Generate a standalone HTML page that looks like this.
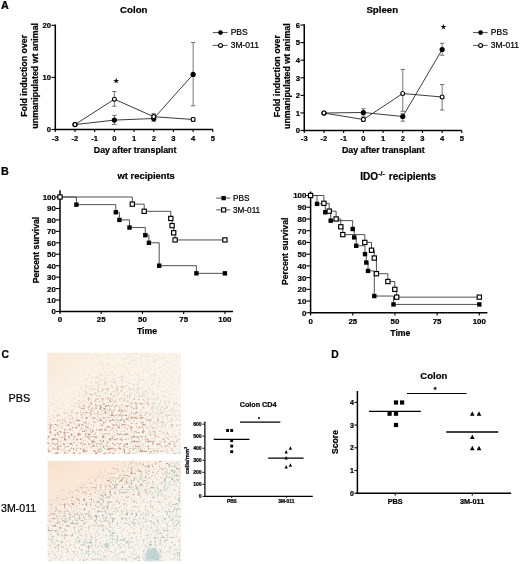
<!DOCTYPE html>
<html><head><meta charset="utf-8"><style>
html,body{margin:0;padding:0;background:#fff;}
svg{display:block;}
text{font-family:"Liberation Sans", Arial, sans-serif;stroke:#000;stroke-width:0.22px;}
</style></head><body>
<svg width="520" height="564" viewBox="0 0 520 564">
<rect width="520" height="564" fill="#fff"/>
<g transform="translate(47.4,352.8)">
<defs>
<filter id="fb11" x="0" y="0" width="100%" height="100%" color-interpolation-filters="sRGB"><feTurbulence type="fractalNoise" baseFrequency="0.42" numOctaves="3" seed="11"/><feColorMatrix type="matrix" values="0 0 0 0 0.8  0 0 0 0 0.52  0 0 0 0 0.44  3.6 0 0 0 -1.85"/><feGaussianBlur stdDeviation="0.4"/></filter>
<filter id="ft11" x="0" y="0" width="100%" height="100%" color-interpolation-filters="sRGB"><feTurbulence type="fractalNoise" baseFrequency="0.42" numOctaves="3" seed="14" result="hi"/><feTurbulence type="fractalNoise" baseFrequency="0.06" numOctaves="2" seed="16" result="lo"/><feColorMatrix in="hi" type="matrix" values="0 0 0 0 0.56  0 0 0 0 0.75  0 0 0 0 0.71  0 3.6 0 0 -2.0" result="t0"/><feColorMatrix in="lo" type="matrix" values="0 0 0 0 0  0 0 0 0 0  0 0 0 0 0  0 0 5 0 -2.1" result="lm"/><feComposite in="t0" in2="lm" operator="in"/><feGaussianBlur stdDeviation="0.4"/></filter>
<filter id="mb11"><feGaussianBlur stdDeviation="7"/></filter>
<linearGradient id="bg11" x1="0" y1="0" x2="1" y2="0.75"><stop offset="0" stop-color="#f9e8d6"/><stop offset="0.3" stop-color="#fbf3e7"/><stop offset="1" stop-color="#f9f6ee"/></linearGradient>
<radialGradient id="mbg11" cx="0.32" cy="1.0" r="0.9"><stop offset="0" stop-color="#fff" stop-opacity="1"/><stop offset="0.5" stop-color="#fff" stop-opacity="0.9"/><stop offset="0.8" stop-color="#fff" stop-opacity="0.35"/><stop offset="1" stop-color="#fff" stop-opacity="0.12"/></radialGradient>
<radialGradient id="mtg11" cx="0.55" cy="0.75" r="0.6"><stop offset="0" stop-color="#fff" stop-opacity="1"/><stop offset="1" stop-color="#fff" stop-opacity="0.2"/></radialGradient>
<mask id="mkb11"><rect width="133.6" height="101.2" fill="url(#mbg11)"/><ellipse cx="2.7" cy="15.2" rx="40.1" ry="50.6" fill="#000" fill-opacity="0.85" filter="url(#mb11)"/></mask>
<mask id="mkt11"><rect width="133.6" height="101.2" fill="url(#mtg11)"/><ellipse cx="2.7" cy="15.2" rx="40.1" ry="50.6" fill="#000" fill-opacity="0.85" filter="url(#mb11)"/></mask>
</defs>
<rect width="133.6" height="101.2" fill="url(#bg11)"/>
<rect width="133.6" height="101.2" filter="url(#ft11)" mask="url(#mkt11)"/>
<rect width="133.6" height="101.2" filter="url(#fb11)" mask="url(#mkb11)"/>
</g>
<g transform="translate(47.6,460.8)">
<defs>
<filter id="fb23" x="0" y="0" width="100%" height="100%" color-interpolation-filters="sRGB"><feTurbulence type="fractalNoise" baseFrequency="0.42" numOctaves="3" seed="23"/><feColorMatrix type="matrix" values="0 0 0 0 0.8  0 0 0 0 0.52  0 0 0 0 0.44  3.6 0 0 0 -1.98"/><feGaussianBlur stdDeviation="0.4"/></filter>
<filter id="ft23" x="0" y="0" width="100%" height="100%" color-interpolation-filters="sRGB"><feTurbulence type="fractalNoise" baseFrequency="0.42" numOctaves="3" seed="26" result="hi"/><feTurbulence type="fractalNoise" baseFrequency="0.06" numOctaves="2" seed="28" result="lo"/><feColorMatrix in="hi" type="matrix" values="0 0 0 0 0.56  0 0 0 0 0.75  0 0 0 0 0.71  0 3.6 0 0 -1.9" result="t0"/><feColorMatrix in="lo" type="matrix" values="0 0 0 0 0  0 0 0 0 0  0 0 0 0 0  0 0 5 0 -2.1" result="lm"/><feComposite in="t0" in2="lm" operator="in"/><feGaussianBlur stdDeviation="0.4"/></filter>
<filter id="mb23"><feGaussianBlur stdDeviation="7"/></filter>
<linearGradient id="bg23" x1="0" y1="0" x2="0.55" y2="0.75"><stop offset="0" stop-color="#f9e2cd"/><stop offset="0.4" stop-color="#faeadb"/><stop offset="0.6" stop-color="#f8f3ea"/><stop offset="1" stop-color="#f6f5ee"/></linearGradient>
<linearGradient id="mbg23" x1="0" y1="0" x2="0.55" y2="0.75"><stop offset="0.3" stop-color="#fff" stop-opacity="0.03"/><stop offset="0.5" stop-color="#fff" stop-opacity="1"/><stop offset="0.75" stop-color="#fff" stop-opacity="0.6"/><stop offset="1" stop-color="#fff" stop-opacity="0.45"/></linearGradient>
<linearGradient id="mtg23" x1="0" y1="0" x2="0.55" y2="0.75"><stop offset="0.35" stop-color="#fff" stop-opacity="0.03"/><stop offset="0.6" stop-color="#fff" stop-opacity="1"/><stop offset="1" stop-color="#fff" stop-opacity="0.9"/></linearGradient>
<mask id="mkb23"><rect width="133.4" height="100.4" fill="url(#mbg23)"/></mask>
<mask id="mkt23"><rect width="133.4" height="100.4" fill="url(#mtg23)"/></mask>
</defs>
<rect width="133.4" height="100.4" fill="url(#bg23)"/>
<rect width="133.4" height="100.4" filter="url(#ft23)" mask="url(#mkt23)"/>
<rect width="133.4" height="100.4" filter="url(#fb23)" mask="url(#mkb23)"/>
<path d="M97.4,99.7 C97.4,92.2 99.4,87.2 104.4,87.7 C108.4,86.2 112.4,92.2 112.4,99.7 Z" fill="#a9c8cc" opacity="0.7" filter="url(#mb23s)"/>
<ellipse cx="59.4" cy="84.2" rx="2.5" ry="2.5" fill="#a4c6c0" opacity="0.6"/>
<filter id="mb23s"><feGaussianBlur stdDeviation="0.8"/></filter>
</g>
<text x="1.00" y="9.00" font-size="10.8" font-weight="bold" text-anchor="start" fill="#000" >A</text>
<text x="1.00" y="175.00" font-size="10.8" font-weight="bold" text-anchor="start" fill="#000" >B</text>
<text x="1.50" y="357.60" font-size="10.3" font-weight="bold" text-anchor="start" fill="#000" >C</text>
<text x="331.20" y="357.60" font-size="10.3" font-weight="bold" text-anchor="start" fill="#000" >D</text>
<text x="133.80" y="13.40" font-size="9.7" font-weight="bold" text-anchor="middle" fill="#000" >Colon</text>
<line x1="55.30" y1="24.55" x2="55.30" y2="130.25" stroke="#000" stroke-width="1.5"/>
<line x1="54.55" y1="129.50" x2="212.82" y2="129.50" stroke="#000" stroke-width="1.5"/>
<line x1="51.50" y1="129.50" x2="55.30" y2="129.50" stroke="#000" stroke-width="1.1"/>
<text x="51.00" y="132.30" font-size="7.7" font-weight="bold" text-anchor="end" fill="#000" >0</text>
<line x1="51.50" y1="77.40" x2="55.30" y2="77.40" stroke="#000" stroke-width="1.1"/>
<text x="51.00" y="80.20" font-size="7.7" font-weight="bold" text-anchor="end" fill="#000" >10</text>
<line x1="51.50" y1="25.30" x2="55.30" y2="25.30" stroke="#000" stroke-width="1.1"/>
<text x="51.00" y="28.10" font-size="7.7" font-weight="bold" text-anchor="end" fill="#000" >20</text>
<line x1="55.30" y1="129.50" x2="55.30" y2="132.10" stroke="#000" stroke-width="1.1"/>
<text x="55.30" y="140.80" font-size="7.6" font-weight="bold" text-anchor="middle" fill="#000" >-3</text>
<line x1="74.99" y1="129.50" x2="74.99" y2="132.10" stroke="#000" stroke-width="1.1"/>
<text x="74.99" y="140.80" font-size="7.6" font-weight="bold" text-anchor="middle" fill="#000" >-2</text>
<line x1="94.68" y1="129.50" x2="94.68" y2="132.10" stroke="#000" stroke-width="1.1"/>
<text x="94.68" y="140.80" font-size="7.6" font-weight="bold" text-anchor="middle" fill="#000" >-1</text>
<line x1="114.37" y1="129.50" x2="114.37" y2="132.10" stroke="#000" stroke-width="1.1"/>
<text x="114.37" y="140.80" font-size="7.6" font-weight="bold" text-anchor="middle" fill="#000" >0</text>
<line x1="134.06" y1="129.50" x2="134.06" y2="132.10" stroke="#000" stroke-width="1.1"/>
<text x="134.06" y="140.80" font-size="7.6" font-weight="bold" text-anchor="middle" fill="#000" >1</text>
<line x1="153.75" y1="129.50" x2="153.75" y2="132.10" stroke="#000" stroke-width="1.1"/>
<text x="153.75" y="140.80" font-size="7.6" font-weight="bold" text-anchor="middle" fill="#000" >2</text>
<line x1="173.44" y1="129.50" x2="173.44" y2="132.10" stroke="#000" stroke-width="1.1"/>
<text x="173.44" y="140.80" font-size="7.6" font-weight="bold" text-anchor="middle" fill="#000" >3</text>
<line x1="193.13" y1="129.50" x2="193.13" y2="132.10" stroke="#000" stroke-width="1.1"/>
<text x="193.13" y="140.80" font-size="7.6" font-weight="bold" text-anchor="middle" fill="#000" >4</text>
<line x1="212.82" y1="129.50" x2="212.82" y2="132.10" stroke="#000" stroke-width="1.1"/>
<text x="212.82" y="140.80" font-size="7.6" font-weight="bold" text-anchor="middle" fill="#000" >5</text>
<text x="135.10" y="152.90" font-size="8.8" font-weight="bold" text-anchor="middle" fill="#000" >Day after transplant</text>
<text transform="translate(26.90,75.80) rotate(-90)" font-size="8.85" font-weight="bold" text-anchor="middle" fill="#000" >Fold induction over</text>
<text transform="translate(37.60,75.80) rotate(-90)" font-size="8.85" font-weight="bold" text-anchor="middle" fill="#000" >unmanipulated wt animal</text>
<polyline points="74.99,124.60 114.37,120.10 153.75,118.50 193.13,74.40" fill="none" stroke="#3c3c3c" stroke-width="1.0"/>
<polyline points="74.99,124.60 114.37,99.20 153.75,116.70 193.13,119.50" fill="none" stroke="#3c3c3c" stroke-width="1.0"/>
<line x1="114.37" y1="115.40" x2="114.37" y2="124.50" stroke="#666" stroke-width="0.9"/>
<line x1="112.17" y1="115.40" x2="116.57" y2="115.40" stroke="#666" stroke-width="0.9"/>
<line x1="112.17" y1="124.50" x2="116.57" y2="124.50" stroke="#666" stroke-width="0.9"/>
<line x1="153.75" y1="114.50" x2="153.75" y2="121.50" stroke="#666" stroke-width="0.9"/>
<line x1="151.55" y1="114.50" x2="155.95" y2="114.50" stroke="#666" stroke-width="0.9"/>
<line x1="151.55" y1="121.50" x2="155.95" y2="121.50" stroke="#666" stroke-width="0.9"/>
<line x1="193.13" y1="42.50" x2="193.13" y2="105.80" stroke="#666" stroke-width="0.9"/>
<line x1="190.93" y1="42.50" x2="195.33" y2="42.50" stroke="#666" stroke-width="0.9"/>
<line x1="190.93" y1="105.80" x2="195.33" y2="105.80" stroke="#666" stroke-width="0.9"/>
<line x1="114.37" y1="91.50" x2="114.37" y2="106.20" stroke="#666" stroke-width="0.9"/>
<line x1="112.17" y1="91.50" x2="116.57" y2="91.50" stroke="#666" stroke-width="0.9"/>
<line x1="112.17" y1="106.20" x2="116.57" y2="106.20" stroke="#666" stroke-width="0.9"/>
<line x1="153.75" y1="113.60" x2="153.75" y2="119.80" stroke="#666" stroke-width="0.9"/>
<line x1="151.55" y1="113.60" x2="155.95" y2="113.60" stroke="#666" stroke-width="0.9"/>
<line x1="151.55" y1="119.80" x2="155.95" y2="119.80" stroke="#666" stroke-width="0.9"/>
<line x1="193.13" y1="117.60" x2="193.13" y2="121.40" stroke="#666" stroke-width="0.9"/>
<line x1="190.93" y1="117.60" x2="195.33" y2="117.60" stroke="#666" stroke-width="0.9"/>
<line x1="190.93" y1="121.40" x2="195.33" y2="121.40" stroke="#666" stroke-width="0.9"/>
<circle cx="74.99" cy="124.60" r="2.6" fill="#000"/>
<circle cx="114.37" cy="120.10" r="2.6" fill="#000"/>
<circle cx="153.75" cy="118.50" r="2.6" fill="#000"/>
<circle cx="193.13" cy="74.40" r="2.6" fill="#000"/>
<circle cx="74.99" cy="124.60" r="1.95" fill="#fff" stroke="#000" stroke-width="1.1"/>
<circle cx="114.37" cy="99.20" r="1.95" fill="#fff" stroke="#000" stroke-width="1.1"/>
<circle cx="153.75" cy="116.70" r="1.95" fill="#fff" stroke="#000" stroke-width="1.1"/>
<circle cx="193.13" cy="119.50" r="1.95" fill="#fff" stroke="#000" stroke-width="1.1"/>
<line x1="212.80" y1="32.60" x2="227.60" y2="32.60" stroke="#3c3c3c" stroke-width="0.9"/>
<circle cx="220.50" cy="32.6" r="2.35" fill="#000"/>
<line x1="212.80" y1="45.40" x2="227.60" y2="45.40" stroke="#3c3c3c" stroke-width="0.9"/>
<circle cx="220.50" cy="45.40" r="1.95" fill="#fff" stroke="#000" stroke-width="1.1"/>
<text x="230.70" y="35.10" font-size="8.5" font-weight="normal" text-anchor="start" fill="#000" >PBS</text>
<text x="230.70" y="48.00" font-size="8.5" font-weight="normal" text-anchor="start" fill="#000" >3M-011</text>
<text x="116.3" y="83.0" font-size="6.6" text-anchor="middle" style="font-family:DejaVu Sans,sans-serif">★</text>
<text x="382.30" y="13.40" font-size="9.7" font-weight="bold" text-anchor="middle" fill="#000" >Spleen</text>
<line x1="304.25" y1="24.27" x2="304.25" y2="131.25" stroke="#000" stroke-width="1.5"/>
<line x1="303.50" y1="130.50" x2="461.85" y2="130.50" stroke="#000" stroke-width="1.5"/>
<line x1="300.45" y1="130.50" x2="304.25" y2="130.50" stroke="#000" stroke-width="1.1"/>
<text x="299.95" y="133.30" font-size="7.7" font-weight="bold" text-anchor="end" fill="#000" >0</text>
<line x1="300.45" y1="112.92" x2="304.25" y2="112.92" stroke="#000" stroke-width="1.1"/>
<text x="299.95" y="115.72" font-size="7.7" font-weight="bold" text-anchor="end" fill="#000" >1</text>
<line x1="300.45" y1="95.34" x2="304.25" y2="95.34" stroke="#000" stroke-width="1.1"/>
<text x="299.95" y="98.14" font-size="7.7" font-weight="bold" text-anchor="end" fill="#000" >2</text>
<line x1="300.45" y1="77.76" x2="304.25" y2="77.76" stroke="#000" stroke-width="1.1"/>
<text x="299.95" y="80.56" font-size="7.7" font-weight="bold" text-anchor="end" fill="#000" >3</text>
<line x1="300.45" y1="60.18" x2="304.25" y2="60.18" stroke="#000" stroke-width="1.1"/>
<text x="299.95" y="62.98" font-size="7.7" font-weight="bold" text-anchor="end" fill="#000" >4</text>
<line x1="300.45" y1="42.60" x2="304.25" y2="42.60" stroke="#000" stroke-width="1.1"/>
<text x="299.95" y="45.40" font-size="7.7" font-weight="bold" text-anchor="end" fill="#000" >5</text>
<line x1="300.45" y1="25.02" x2="304.25" y2="25.02" stroke="#000" stroke-width="1.1"/>
<text x="299.95" y="27.82" font-size="7.7" font-weight="bold" text-anchor="end" fill="#000" >6</text>
<line x1="304.25" y1="130.50" x2="304.25" y2="133.10" stroke="#000" stroke-width="1.1"/>
<text x="304.25" y="140.80" font-size="7.6" font-weight="bold" text-anchor="middle" fill="#000" >-3</text>
<line x1="323.95" y1="130.50" x2="323.95" y2="133.10" stroke="#000" stroke-width="1.1"/>
<text x="323.95" y="140.80" font-size="7.6" font-weight="bold" text-anchor="middle" fill="#000" >-2</text>
<line x1="343.65" y1="130.50" x2="343.65" y2="133.10" stroke="#000" stroke-width="1.1"/>
<text x="343.65" y="140.80" font-size="7.6" font-weight="bold" text-anchor="middle" fill="#000" >-1</text>
<line x1="363.35" y1="130.50" x2="363.35" y2="133.10" stroke="#000" stroke-width="1.1"/>
<text x="363.35" y="140.80" font-size="7.6" font-weight="bold" text-anchor="middle" fill="#000" >0</text>
<line x1="383.05" y1="130.50" x2="383.05" y2="133.10" stroke="#000" stroke-width="1.1"/>
<text x="383.05" y="140.80" font-size="7.6" font-weight="bold" text-anchor="middle" fill="#000" >1</text>
<line x1="402.75" y1="130.50" x2="402.75" y2="133.10" stroke="#000" stroke-width="1.1"/>
<text x="402.75" y="140.80" font-size="7.6" font-weight="bold" text-anchor="middle" fill="#000" >2</text>
<line x1="422.45" y1="130.50" x2="422.45" y2="133.10" stroke="#000" stroke-width="1.1"/>
<text x="422.45" y="140.80" font-size="7.6" font-weight="bold" text-anchor="middle" fill="#000" >3</text>
<line x1="442.15" y1="130.50" x2="442.15" y2="133.10" stroke="#000" stroke-width="1.1"/>
<text x="442.15" y="140.80" font-size="7.6" font-weight="bold" text-anchor="middle" fill="#000" >4</text>
<line x1="461.85" y1="130.50" x2="461.85" y2="133.10" stroke="#000" stroke-width="1.1"/>
<text x="461.85" y="140.80" font-size="7.6" font-weight="bold" text-anchor="middle" fill="#000" >5</text>
<text x="383.30" y="152.90" font-size="8.8" font-weight="bold" text-anchor="middle" fill="#000" >Day after transplant</text>
<text transform="translate(280.30,76.16) rotate(-90)" font-size="8.85" font-weight="bold" text-anchor="middle" fill="#000" >Fold induction over</text>
<text transform="translate(290.40,76.16) rotate(-90)" font-size="8.85" font-weight="bold" text-anchor="middle" fill="#000" >unmanipulated wt animal</text>
<polyline points="323.95,113.00 363.35,112.50 402.75,116.50 442.15,49.50" fill="none" stroke="#3c3c3c" stroke-width="1.0"/>
<polyline points="323.95,113.00 363.35,119.50 402.75,93.50 442.15,97.00" fill="none" stroke="#3c3c3c" stroke-width="1.0"/>
<line x1="363.35" y1="108.80" x2="363.35" y2="116.20" stroke="#666" stroke-width="0.9"/>
<line x1="361.15" y1="108.80" x2="365.55" y2="108.80" stroke="#666" stroke-width="0.9"/>
<line x1="361.15" y1="116.20" x2="365.55" y2="116.20" stroke="#666" stroke-width="0.9"/>
<line x1="402.75" y1="113.70" x2="402.75" y2="121.20" stroke="#666" stroke-width="0.9"/>
<line x1="400.55" y1="113.70" x2="404.95" y2="113.70" stroke="#666" stroke-width="0.9"/>
<line x1="400.55" y1="121.20" x2="404.95" y2="121.20" stroke="#666" stroke-width="0.9"/>
<line x1="442.15" y1="43.30" x2="442.15" y2="55.20" stroke="#666" stroke-width="0.9"/>
<line x1="439.95" y1="43.30" x2="444.35" y2="43.30" stroke="#666" stroke-width="0.9"/>
<line x1="439.95" y1="55.20" x2="444.35" y2="55.20" stroke="#666" stroke-width="0.9"/>
<line x1="363.35" y1="117.50" x2="363.35" y2="121.50" stroke="#666" stroke-width="0.9"/>
<line x1="361.15" y1="117.50" x2="365.55" y2="117.50" stroke="#666" stroke-width="0.9"/>
<line x1="361.15" y1="121.50" x2="365.55" y2="121.50" stroke="#666" stroke-width="0.9"/>
<line x1="402.75" y1="69.50" x2="402.75" y2="111.30" stroke="#666" stroke-width="0.9"/>
<line x1="400.55" y1="69.50" x2="404.95" y2="69.50" stroke="#666" stroke-width="0.9"/>
<line x1="400.55" y1="111.30" x2="404.95" y2="111.30" stroke="#666" stroke-width="0.9"/>
<line x1="442.15" y1="84.50" x2="442.15" y2="110.00" stroke="#666" stroke-width="0.9"/>
<line x1="439.95" y1="84.50" x2="444.35" y2="84.50" stroke="#666" stroke-width="0.9"/>
<line x1="439.95" y1="110.00" x2="444.35" y2="110.00" stroke="#666" stroke-width="0.9"/>
<circle cx="323.95" cy="113.00" r="2.6" fill="#000"/>
<circle cx="363.35" cy="112.50" r="2.6" fill="#000"/>
<circle cx="402.75" cy="116.50" r="2.6" fill="#000"/>
<circle cx="442.15" cy="49.50" r="2.6" fill="#000"/>
<circle cx="323.95" cy="113.00" r="1.95" fill="#fff" stroke="#000" stroke-width="1.1"/>
<circle cx="363.35" cy="119.50" r="1.95" fill="#fff" stroke="#000" stroke-width="1.1"/>
<circle cx="402.75" cy="93.50" r="1.95" fill="#fff" stroke="#000" stroke-width="1.1"/>
<circle cx="442.15" cy="97.00" r="1.95" fill="#fff" stroke="#000" stroke-width="1.1"/>
<line x1="472.90" y1="32.60" x2="487.70" y2="32.60" stroke="#3c3c3c" stroke-width="0.9"/>
<circle cx="480.60" cy="32.6" r="2.35" fill="#000"/>
<line x1="472.90" y1="45.40" x2="487.70" y2="45.40" stroke="#3c3c3c" stroke-width="0.9"/>
<circle cx="480.60" cy="45.40" r="1.95" fill="#fff" stroke="#000" stroke-width="1.1"/>
<text x="490.80" y="35.10" font-size="8.5" font-weight="normal" text-anchor="start" fill="#000" >PBS</text>
<text x="490.80" y="48.00" font-size="8.5" font-weight="normal" text-anchor="start" fill="#000" >3M-011</text>
<text x="443.4" y="29.4" font-size="6.6" text-anchor="middle" style="font-family:DejaVu Sans,sans-serif">★</text>
<polyline points="60.00,197.00 76.40,197.00 76.40,204.64 115.80,204.64 115.80,212.26 119.40,212.26 119.40,219.90 129.50,219.90 129.50,227.54 145.30,227.54 145.30,235.16 148.90,235.16 148.90,242.80 159.20,242.80 159.20,265.70 196.40,265.70 196.40,273.34 224.90,273.34" fill="none" stroke="#3c3c3c" stroke-width="0.9"/>
<polyline points="60.00,197.00 132.30,197.00 132.30,204.16 144.20,204.16 144.20,211.31 170.80,211.31 170.80,218.47 172.10,218.47 172.10,225.62 173.70,225.62 173.70,232.78 175.10,232.78 175.10,239.94 224.90,239.94" fill="none" stroke="#3c3c3c" stroke-width="0.9"/>
<line x1="60.00" y1="190.20" x2="60.00" y2="312.25" stroke="#000" stroke-width="1.5"/>
<line x1="59.25" y1="311.50" x2="233.00" y2="311.50" stroke="#000" stroke-width="1.5"/>
<line x1="55.80" y1="311.50" x2="60.00" y2="311.50" stroke="#000" stroke-width="1.1"/>
<text x="55.80" y="314.40" font-size="7.9" font-weight="bold" text-anchor="end" fill="#000" >0</text>
<line x1="55.80" y1="300.05" x2="60.00" y2="300.05" stroke="#000" stroke-width="1.1"/>
<text x="55.80" y="302.95" font-size="7.9" font-weight="bold" text-anchor="end" fill="#000" >10</text>
<line x1="55.80" y1="288.60" x2="60.00" y2="288.60" stroke="#000" stroke-width="1.1"/>
<text x="55.80" y="291.50" font-size="7.9" font-weight="bold" text-anchor="end" fill="#000" >20</text>
<line x1="55.80" y1="277.15" x2="60.00" y2="277.15" stroke="#000" stroke-width="1.1"/>
<text x="55.80" y="280.05" font-size="7.9" font-weight="bold" text-anchor="end" fill="#000" >30</text>
<line x1="55.80" y1="265.70" x2="60.00" y2="265.70" stroke="#000" stroke-width="1.1"/>
<text x="55.80" y="268.60" font-size="7.9" font-weight="bold" text-anchor="end" fill="#000" >40</text>
<line x1="55.80" y1="254.25" x2="60.00" y2="254.25" stroke="#000" stroke-width="1.1"/>
<text x="55.80" y="257.15" font-size="7.9" font-weight="bold" text-anchor="end" fill="#000" >50</text>
<line x1="55.80" y1="242.80" x2="60.00" y2="242.80" stroke="#000" stroke-width="1.1"/>
<text x="55.80" y="245.70" font-size="7.9" font-weight="bold" text-anchor="end" fill="#000" >60</text>
<line x1="55.80" y1="231.35" x2="60.00" y2="231.35" stroke="#000" stroke-width="1.1"/>
<text x="55.80" y="234.25" font-size="7.9" font-weight="bold" text-anchor="end" fill="#000" >70</text>
<line x1="55.80" y1="219.90" x2="60.00" y2="219.90" stroke="#000" stroke-width="1.1"/>
<text x="55.80" y="222.80" font-size="7.9" font-weight="bold" text-anchor="end" fill="#000" >80</text>
<line x1="55.80" y1="208.45" x2="60.00" y2="208.45" stroke="#000" stroke-width="1.1"/>
<text x="55.80" y="211.35" font-size="7.9" font-weight="bold" text-anchor="end" fill="#000" >90</text>
<line x1="55.80" y1="197.00" x2="60.00" y2="197.00" stroke="#000" stroke-width="1.1"/>
<text x="55.80" y="199.90" font-size="7.9" font-weight="bold" text-anchor="end" fill="#000" >100</text>
<line x1="60.00" y1="311.50" x2="60.00" y2="314.10" stroke="#000" stroke-width="1.1"/>
<text x="60.00" y="321.90" font-size="7.9" font-weight="bold" text-anchor="middle" fill="#000" >0</text>
<line x1="101.22" y1="311.50" x2="101.22" y2="314.10" stroke="#000" stroke-width="1.1"/>
<text x="101.22" y="321.90" font-size="7.9" font-weight="bold" text-anchor="middle" fill="#000" >25</text>
<line x1="142.45" y1="311.50" x2="142.45" y2="314.10" stroke="#000" stroke-width="1.1"/>
<text x="142.45" y="321.90" font-size="7.9" font-weight="bold" text-anchor="middle" fill="#000" >50</text>
<line x1="183.68" y1="311.50" x2="183.68" y2="314.10" stroke="#000" stroke-width="1.1"/>
<text x="183.68" y="321.90" font-size="7.9" font-weight="bold" text-anchor="middle" fill="#000" >75</text>
<line x1="224.90" y1="311.50" x2="224.90" y2="314.10" stroke="#000" stroke-width="1.1"/>
<text x="224.90" y="321.90" font-size="7.9" font-weight="bold" text-anchor="middle" fill="#000" >100</text>
<text x="147.00" y="334.00" font-size="8.7" font-weight="bold" text-anchor="middle" fill="#000" >Time</text>
<text transform="translate(39.30,250.10) rotate(-90)" font-size="8.6" font-weight="bold" text-anchor="middle" fill="#000" >Percent survival</text>
<text x="146.2" y="179.0" font-size="9.4" font-weight="bold" text-anchor="middle">wt recipients</text>
<rect x="74.20" y="202.44" width="4.4" height="4.4" fill="#000"/>
<rect x="113.60" y="210.06" width="4.4" height="4.4" fill="#000"/>
<rect x="117.20" y="217.70" width="4.4" height="4.4" fill="#000"/>
<rect x="127.30" y="225.34" width="4.4" height="4.4" fill="#000"/>
<rect x="143.10" y="232.96" width="4.4" height="4.4" fill="#000"/>
<rect x="146.70" y="240.60" width="4.4" height="4.4" fill="#000"/>
<rect x="157.00" y="263.50" width="4.4" height="4.4" fill="#000"/>
<rect x="194.20" y="271.14" width="4.4" height="4.4" fill="#000"/>
<rect x="222.70" y="271.14" width="4.4" height="4.4" fill="#000"/>
<rect x="130.18" y="202.03" width="4.25" height="4.25" fill="#fff" stroke="#000" stroke-width="1.15"/>
<rect x="142.07" y="209.19" width="4.25" height="4.25" fill="#fff" stroke="#000" stroke-width="1.15"/>
<rect x="168.68" y="216.34" width="4.25" height="4.25" fill="#fff" stroke="#000" stroke-width="1.15"/>
<rect x="169.97" y="223.50" width="4.25" height="4.25" fill="#fff" stroke="#000" stroke-width="1.15"/>
<rect x="171.57" y="230.66" width="4.25" height="4.25" fill="#fff" stroke="#000" stroke-width="1.15"/>
<rect x="172.97" y="237.81" width="4.25" height="4.25" fill="#fff" stroke="#000" stroke-width="1.15"/>
<rect x="222.78" y="237.81" width="4.25" height="4.25" fill="#fff" stroke="#000" stroke-width="1.15"/>
<rect x="57.88" y="194.88" width="4.25" height="4.25" fill="#fff" stroke="#000" stroke-width="1.15"/>
<line x1="216.20" y1="198.10" x2="230.30" y2="198.10" stroke="#3c3c3c" stroke-width="0.9"/>
<rect x="221.45" y="195.95" width="4.3" height="4.3" fill="#000"/>
<line x1="216.20" y1="209.90" x2="230.30" y2="209.90" stroke="#3c3c3c" stroke-width="0.9"/>
<rect x="221.57" y="207.88" width="4.050000000000001" height="4.050000000000001" fill="#fff" stroke="#000" stroke-width="1.15"/>
<text x="233.00" y="201.00" font-size="8.2" font-weight="normal" text-anchor="start" fill="#000" >PBS</text>
<text x="233.00" y="212.80" font-size="8.2" font-weight="normal" text-anchor="start" fill="#000" >3M-011</text>
<polyline points="310.60,195.50 317.00,195.50 317.00,203.88 325.30,203.88 325.30,212.26 330.70,212.26 330.70,220.64 352.70,220.64 352.70,229.01 354.20,229.01 354.20,237.39 356.20,237.39 356.20,245.77 365.00,245.77 365.00,254.15 366.30,254.15 366.30,262.53 368.00,262.53 368.00,270.91 374.30,270.91 374.30,296.04 393.50,296.04 393.50,304.42 479.30,304.42" fill="none" stroke="#3c3c3c" stroke-width="0.9"/>
<polyline points="310.60,195.50 323.90,195.50 323.90,203.32 329.20,203.32 329.20,211.14 336.10,211.14 336.10,218.96 340.80,218.96 340.80,226.78 342.80,226.78 342.80,234.60 364.80,234.60 364.80,242.42 371.50,242.42 371.50,250.24 374.30,250.24 374.30,258.06 376.40,258.06 376.40,273.70 387.90,273.70 387.90,281.52 394.80,281.52 394.80,289.34 396.70,289.34 396.70,297.16 479.30,297.16" fill="none" stroke="#3c3c3c" stroke-width="0.9"/>
<line x1="310.60" y1="191.50" x2="310.60" y2="313.55" stroke="#000" stroke-width="1.5"/>
<line x1="309.85" y1="312.80" x2="487.40" y2="312.80" stroke="#000" stroke-width="1.5"/>
<line x1="306.40" y1="312.80" x2="310.60" y2="312.80" stroke="#000" stroke-width="1.1"/>
<text x="306.40" y="315.70" font-size="7.9" font-weight="bold" text-anchor="end" fill="#000" >0</text>
<line x1="306.40" y1="301.07" x2="310.60" y2="301.07" stroke="#000" stroke-width="1.1"/>
<text x="306.40" y="303.97" font-size="7.9" font-weight="bold" text-anchor="end" fill="#000" >10</text>
<line x1="306.40" y1="289.34" x2="310.60" y2="289.34" stroke="#000" stroke-width="1.1"/>
<text x="306.40" y="292.24" font-size="7.9" font-weight="bold" text-anchor="end" fill="#000" >20</text>
<line x1="306.40" y1="277.61" x2="310.60" y2="277.61" stroke="#000" stroke-width="1.1"/>
<text x="306.40" y="280.51" font-size="7.9" font-weight="bold" text-anchor="end" fill="#000" >30</text>
<line x1="306.40" y1="265.88" x2="310.60" y2="265.88" stroke="#000" stroke-width="1.1"/>
<text x="306.40" y="268.78" font-size="7.9" font-weight="bold" text-anchor="end" fill="#000" >40</text>
<line x1="306.40" y1="254.15" x2="310.60" y2="254.15" stroke="#000" stroke-width="1.1"/>
<text x="306.40" y="257.05" font-size="7.9" font-weight="bold" text-anchor="end" fill="#000" >50</text>
<line x1="306.40" y1="242.42" x2="310.60" y2="242.42" stroke="#000" stroke-width="1.1"/>
<text x="306.40" y="245.32" font-size="7.9" font-weight="bold" text-anchor="end" fill="#000" >60</text>
<line x1="306.40" y1="230.69" x2="310.60" y2="230.69" stroke="#000" stroke-width="1.1"/>
<text x="306.40" y="233.59" font-size="7.9" font-weight="bold" text-anchor="end" fill="#000" >70</text>
<line x1="306.40" y1="218.96" x2="310.60" y2="218.96" stroke="#000" stroke-width="1.1"/>
<text x="306.40" y="221.86" font-size="7.9" font-weight="bold" text-anchor="end" fill="#000" >80</text>
<line x1="306.40" y1="207.23" x2="310.60" y2="207.23" stroke="#000" stroke-width="1.1"/>
<text x="306.40" y="210.13" font-size="7.9" font-weight="bold" text-anchor="end" fill="#000" >90</text>
<line x1="306.40" y1="195.50" x2="310.60" y2="195.50" stroke="#000" stroke-width="1.1"/>
<text x="306.40" y="198.40" font-size="7.9" font-weight="bold" text-anchor="end" fill="#000" >100</text>
<line x1="310.60" y1="312.80" x2="310.60" y2="315.40" stroke="#000" stroke-width="1.1"/>
<text x="310.60" y="324.00" font-size="7.9" font-weight="bold" text-anchor="middle" fill="#000" >0</text>
<line x1="352.78" y1="312.80" x2="352.78" y2="315.40" stroke="#000" stroke-width="1.1"/>
<text x="352.78" y="324.00" font-size="7.9" font-weight="bold" text-anchor="middle" fill="#000" >25</text>
<line x1="394.95" y1="312.80" x2="394.95" y2="315.40" stroke="#000" stroke-width="1.1"/>
<text x="394.95" y="324.00" font-size="7.9" font-weight="bold" text-anchor="middle" fill="#000" >50</text>
<line x1="437.12" y1="312.80" x2="437.12" y2="315.40" stroke="#000" stroke-width="1.1"/>
<text x="437.12" y="324.00" font-size="7.9" font-weight="bold" text-anchor="middle" fill="#000" >75</text>
<line x1="479.30" y1="312.80" x2="479.30" y2="315.40" stroke="#000" stroke-width="1.1"/>
<text x="479.30" y="324.00" font-size="7.9" font-weight="bold" text-anchor="middle" fill="#000" >100</text>
<text x="400.30" y="336.10" font-size="8.7" font-weight="bold" text-anchor="middle" fill="#000" >Time</text>
<text transform="translate(287.60,251.30) rotate(-90)" font-size="8.75" font-weight="bold" text-anchor="middle" fill="#000" >Percent survival</text>
<text x="360.2" y="180.0" font-size="10" font-weight="bold">IDO<tspan font-size="7" dy="-4.3" dx="0.3">-/-</tspan><tspan dy="4.3" dx="1.2"> recipients</tspan></text>
<rect x="314.80" y="201.68" width="4.4" height="4.4" fill="#000"/>
<rect x="323.10" y="210.06" width="4.4" height="4.4" fill="#000"/>
<rect x="328.50" y="218.44" width="4.4" height="4.4" fill="#000"/>
<rect x="350.50" y="226.81" width="4.4" height="4.4" fill="#000"/>
<rect x="352.00" y="235.19" width="4.4" height="4.4" fill="#000"/>
<rect x="354.00" y="243.57" width="4.4" height="4.4" fill="#000"/>
<rect x="362.80" y="251.95" width="4.4" height="4.4" fill="#000"/>
<rect x="364.10" y="260.33" width="4.4" height="4.4" fill="#000"/>
<rect x="365.80" y="268.71" width="4.4" height="4.4" fill="#000"/>
<rect x="372.10" y="293.84" width="4.4" height="4.4" fill="#000"/>
<rect x="391.30" y="302.22" width="4.4" height="4.4" fill="#000"/>
<rect x="477.10" y="302.22" width="4.4" height="4.4" fill="#000"/>
<rect x="321.77" y="201.20" width="4.25" height="4.25" fill="#fff" stroke="#000" stroke-width="1.15"/>
<rect x="327.07" y="209.01" width="4.25" height="4.25" fill="#fff" stroke="#000" stroke-width="1.15"/>
<rect x="333.98" y="216.84" width="4.25" height="4.25" fill="#fff" stroke="#000" stroke-width="1.15"/>
<rect x="338.68" y="224.66" width="4.25" height="4.25" fill="#fff" stroke="#000" stroke-width="1.15"/>
<rect x="340.68" y="232.47" width="4.25" height="4.25" fill="#fff" stroke="#000" stroke-width="1.15"/>
<rect x="362.68" y="240.30" width="4.25" height="4.25" fill="#fff" stroke="#000" stroke-width="1.15"/>
<rect x="369.38" y="248.12" width="4.25" height="4.25" fill="#fff" stroke="#000" stroke-width="1.15"/>
<rect x="372.18" y="255.93" width="4.25" height="4.25" fill="#fff" stroke="#000" stroke-width="1.15"/>
<rect x="374.27" y="271.58" width="4.25" height="4.25" fill="#fff" stroke="#000" stroke-width="1.15"/>
<rect x="385.77" y="279.39" width="4.25" height="4.25" fill="#fff" stroke="#000" stroke-width="1.15"/>
<rect x="392.68" y="287.22" width="4.25" height="4.25" fill="#fff" stroke="#000" stroke-width="1.15"/>
<rect x="394.57" y="295.04" width="4.25" height="4.25" fill="#fff" stroke="#000" stroke-width="1.15"/>
<rect x="477.18" y="295.04" width="4.25" height="4.25" fill="#fff" stroke="#000" stroke-width="1.15"/>
<rect x="308.48" y="193.38" width="4.25" height="4.25" fill="#fff" stroke="#000" stroke-width="1.15"/>
<text x="8.60" y="402.00" font-size="10.8" font-weight="normal" text-anchor="start" fill="#000" >PBS</text>
<text x="1.00" y="512.40" font-size="10.6" font-weight="normal" text-anchor="start" fill="#000" >3M-011</text>
<line x1="204.90" y1="421.50" x2="204.90" y2="497.00" stroke="#000" stroke-width="1.2"/>
<line x1="204.30" y1="496.40" x2="312.80" y2="496.40" stroke="#000" stroke-width="1.2"/>
<line x1="202.50" y1="496.40" x2="204.90" y2="496.40" stroke="#000" stroke-width="0.9"/>
<text x="201.70" y="498.20" font-size="5.1" font-weight="bold" text-anchor="end" fill="#000" >0</text>
<line x1="202.50" y1="484.36" x2="204.90" y2="484.36" stroke="#000" stroke-width="0.9"/>
<text x="201.70" y="486.16" font-size="5.1" font-weight="bold" text-anchor="end" fill="#000" >100</text>
<line x1="202.50" y1="472.32" x2="204.90" y2="472.32" stroke="#000" stroke-width="0.9"/>
<text x="201.70" y="474.12" font-size="5.1" font-weight="bold" text-anchor="end" fill="#000" >200</text>
<line x1="202.50" y1="460.28" x2="204.90" y2="460.28" stroke="#000" stroke-width="0.9"/>
<text x="201.70" y="462.08" font-size="5.1" font-weight="bold" text-anchor="end" fill="#000" >300</text>
<line x1="202.50" y1="448.24" x2="204.90" y2="448.24" stroke="#000" stroke-width="0.9"/>
<text x="201.70" y="450.04" font-size="5.1" font-weight="bold" text-anchor="end" fill="#000" >400</text>
<line x1="202.50" y1="436.20" x2="204.90" y2="436.20" stroke="#000" stroke-width="0.9"/>
<text x="201.70" y="438.00" font-size="5.1" font-weight="bold" text-anchor="end" fill="#000" >500</text>
<line x1="202.50" y1="424.16" x2="204.90" y2="424.16" stroke="#000" stroke-width="0.9"/>
<text x="201.70" y="425.96" font-size="5.1" font-weight="bold" text-anchor="end" fill="#000" >600</text>
<line x1="231.70" y1="496.40" x2="231.70" y2="498.00" stroke="#000" stroke-width="0.9"/>
<line x1="286.40" y1="496.40" x2="286.40" y2="498.00" stroke="#000" stroke-width="0.9"/>
<text x="231.90" y="503.40" font-size="4.8" font-weight="bold" text-anchor="middle" fill="#000" >PBS</text>
<text x="286.30" y="503.30" font-size="4.8" font-weight="bold" text-anchor="middle" fill="#000" >3M-011</text>
<text transform="translate(189.2,460.4) rotate(-90)" font-size="5.9" font-weight="bold" text-anchor="middle">cells/mm<tspan font-size="3.6" dy="-2">2</tspan></text>
<text x="258.10" y="407.10" font-size="7.2" font-weight="bold" text-anchor="middle" fill="#000" >Colon CD4</text>
<line x1="240.00" y1="422.10" x2="280.30" y2="422.10" stroke="#000" stroke-width="1.25"/>
<text x="259.00" y="420.60" font-size="5" font-weight="bold" text-anchor="middle" fill="#000" >*</text>
<line x1="213.70" y1="439.40" x2="249.50" y2="439.40" stroke="#000" stroke-width="1.2"/>
<line x1="268.10" y1="458.10" x2="303.60" y2="458.10" stroke="#000" stroke-width="1.25"/>
<rect x="226.15" y="429.05" width="2.9" height="2.9" fill="#000"/>
<rect x="230.25" y="429.05" width="2.9" height="2.9" fill="#000"/>
<rect x="230.25" y="439.15" width="2.9" height="2.9" fill="#000"/>
<rect x="230.25" y="444.65" width="2.9" height="2.9" fill="#000"/>
<rect x="230.25" y="450.25" width="2.9" height="2.9" fill="#000"/>
<polygon points="286.20,450.12 284.55,453.49 287.85,453.49" fill="#000"/>
<polygon points="290.40,446.31 288.75,449.69 292.05,449.69" fill="#000"/>
<polygon points="286.20,456.12 284.55,459.49 287.85,459.49" fill="#000"/>
<polygon points="286.20,465.01 284.55,468.38 287.85,468.38" fill="#000"/>
<polygon points="290.40,463.31 288.75,466.69 292.05,466.69" fill="#000"/>
<line x1="357.40" y1="391.00" x2="357.40" y2="493.95" stroke="#000" stroke-width="1.5"/>
<line x1="356.65" y1="493.20" x2="511.10" y2="493.20" stroke="#000" stroke-width="1.5"/>
<line x1="354.40" y1="493.20" x2="357.40" y2="493.20" stroke="#000" stroke-width="1.1"/>
<text x="354.00" y="495.70" font-size="7.0" font-weight="bold" text-anchor="end" fill="#000" >0</text>
<line x1="354.40" y1="470.50" x2="357.40" y2="470.50" stroke="#000" stroke-width="1.1"/>
<text x="354.00" y="473.00" font-size="7.0" font-weight="bold" text-anchor="end" fill="#000" >1</text>
<line x1="354.40" y1="447.80" x2="357.40" y2="447.80" stroke="#000" stroke-width="1.1"/>
<text x="354.00" y="450.30" font-size="7.0" font-weight="bold" text-anchor="end" fill="#000" >2</text>
<line x1="354.40" y1="425.10" x2="357.40" y2="425.10" stroke="#000" stroke-width="1.1"/>
<text x="354.00" y="427.60" font-size="7.0" font-weight="bold" text-anchor="end" fill="#000" >3</text>
<line x1="354.40" y1="402.40" x2="357.40" y2="402.40" stroke="#000" stroke-width="1.1"/>
<text x="354.00" y="404.90" font-size="7.0" font-weight="bold" text-anchor="end" fill="#000" >4</text>
<line x1="395.20" y1="493.20" x2="395.20" y2="495.60" stroke="#000" stroke-width="1.1"/>
<line x1="472.30" y1="493.20" x2="472.30" y2="495.60" stroke="#000" stroke-width="1.1"/>
<text x="395.20" y="503.50" font-size="7.3" font-weight="bold" text-anchor="middle" fill="#000" >PBS</text>
<text x="472.10" y="503.80" font-size="7.3" font-weight="bold" text-anchor="middle" fill="#000" >3M-011</text>
<text transform="translate(338.20,442.00) rotate(-90)" font-size="8.6" font-weight="bold" text-anchor="middle" fill="#000" >Score</text>
<text x="433.80" y="379.00" font-size="9.5" font-weight="bold" text-anchor="middle" fill="#000" >Colon</text>
<line x1="406.90" y1="393.50" x2="466.50" y2="393.50" stroke="#000" stroke-width="1.1"/>
<text x="435.10" y="391.50" font-size="7" font-weight="bold" text-anchor="middle" fill="#000" >*</text>
<line x1="369.00" y1="411.40" x2="420.80" y2="411.40" stroke="#000" stroke-width="1.1"/>
<line x1="446.20" y1="432.00" x2="498.20" y2="432.00" stroke="#000" stroke-width="1.3"/>
<rect x="393.90" y="400.40" width="4.2" height="4.2" fill="#000"/>
<rect x="400.00" y="400.40" width="4.2" height="4.2" fill="#000"/>
<rect x="387.50" y="411.60" width="4.2" height="4.2" fill="#000"/>
<rect x="393.90" y="411.60" width="4.2" height="4.2" fill="#000"/>
<rect x="393.90" y="422.90" width="4.2" height="4.2" fill="#000"/>
<polygon points="472.30,411.33 470.00,415.87 474.60,415.87" fill="#000"/>
<polygon points="479.00,411.33 476.70,415.87 481.30,415.87" fill="#000"/>
<polygon points="472.30,434.43 470.00,438.97 474.60,438.97" fill="#000"/>
<polygon points="472.30,445.73 470.00,450.27 474.60,450.27" fill="#000"/>
<polygon points="479.00,445.73 476.70,450.27 481.30,450.27" fill="#000"/>
</svg>
</body></html>
